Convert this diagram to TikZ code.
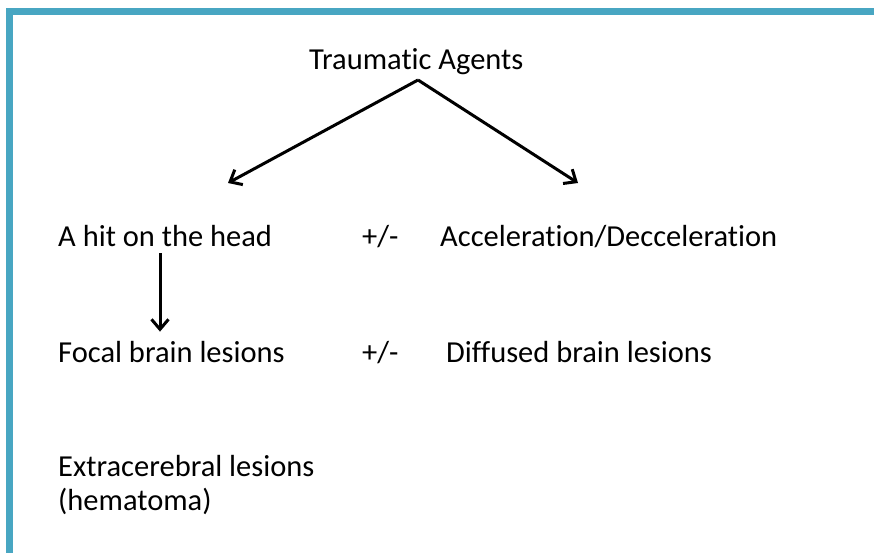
\documentclass[tikz,border=0pt]{standalone}
\usepackage{fontspec}
\setmainfont{Carlito}[Ligatures={NoCommon}]
\usepackage{xcolor}
\usetikzlibrary{arrows.meta}
\definecolor{framecol}{RGB}{72,166,194}

\begin{document}
\begin{tikzpicture}[x=1pt, y=-1pt, txt/.style={anchor=base west, inner sep=0pt, font=\fontsize{30.5}{36}\selectfont, text=black}, arr/.style={-{Straight Barb[length=10pt,width=17pt,line width=3pt]}, line width=3pt}]
\useasboundingbox (0,0) rectangle (874,553);
\fill[white] (0,0) rectangle (874,553);
\draw[framecol, line width=7pt] (9.5,553) -- (9.5,11.5) -- (874,11.5);
\node[txt] (agents) at (309,70) {Traumatic Agents};
\node[txt] (hit) at (58,246) {A hit on the head};
\node[txt] (pm1) at (362,246) {+/-};
\node[txt] (accel) at (440,246) {Acceleration/Decceleration};
\node[txt] (focal) at (58,362) {Focal brain lesions};
\node[txt] (pm2) at (362,362) {+/-};
\node[txt] (diff) at (446,362) {Diffused brain lesions};
\node[txt] (extra) at (58,476) {Extracerebral lesions};
\node[txt] (hema) at (58,510) {(hematoma)};
\coordinate (apex) at (418,80);
\coordinate (lend) at (228,183);
\coordinate (rend) at (578,183);
\coordinate (hitdown) at (160,253);
\draw[arr] (apex) -- (lend);
\draw[arr] (apex) -- (rend);
\draw[arr, shorten >=9pt] (hitdown) -- (hitdown |- focal.north) ;
\end{tikzpicture}
\end{document}
